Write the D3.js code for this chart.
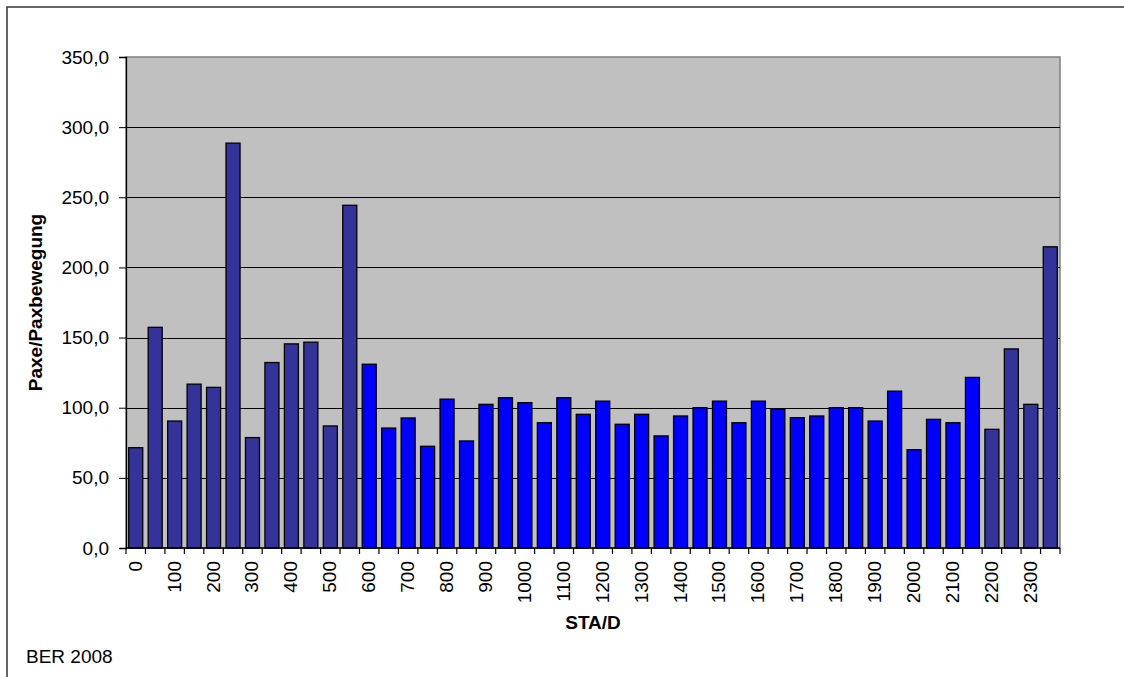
<!DOCTYPE html>
<html>
<head>
<meta charset="utf-8">
<script src="https://cdn.jsdelivr.net/npm/d3@7"></script>
<style>
  html, body { margin: 0; padding: 0; background: #fff; overflow: hidden; }
  svg { display: block; overflow: hidden; font-family: Arial, "Liberation Sans", sans-serif; }
</style>
</head>
<body>
<svg id="chart" width="1124" height="677"></svg>
<script>
// Half-hour slots (STA/D)
const categories = [
  "0","30","100","130","200","230","300","330","400","430","500","530",
  "600","630","700","730","800","830","900","930","1000","1030","1100","1130",
  "1200","1230","1300","1330","1400","1430","1500","1530","1600","1630","1700","1730",
  "1800","1830","1900","1930","2000","2030","2100","2130","2200","2230","2300","2330"
];
// Paxe/Paxbewegung
const values = [
  71.5, 157.3, 90.5, 116.8, 114.5, 288.6, 78.7, 132.2, 145.5, 146.7, 87.0, 244.3,
  131.0, 85.5, 92.7, 72.5, 106.1, 76.3, 102.4, 107.1, 103.6, 89.3, 107.1, 95.3,
  104.7, 88.2, 95.3, 79.9, 94.1, 100.0, 104.7, 89.3, 104.7, 98.8, 92.9, 94.1,
  100.0, 100.0, 90.5, 111.8, 70.1, 91.7, 89.3, 121.6, 84.6, 141.9, 102.4, 214.7
];
// night slots (dark) vs day slots (bright)
const nightSlots = ["0","30","100","130","200","230","300","330","400","430","500","530","2200","2230","2300","2330"];
const yTicks = [0, 50, 100, 150, 200, 250, 300, 350];
const xLabels = ["0","100","200","300","400","500","600","700","800","900","1000","1100",
  "1200","1300","1400","1500","1600","1700","1800","1900","2000","2100","2200","2300"];

const svg = d3.select("#chart");
const pL = 126, pR = 1060, pT = 57, pB = 548;

// outer chart border (left and top edges visible; right/bottom lie outside the frame)
svg.append("path").attr("d", "M7,700 L7,7 L1124,7")
  .attr("fill", "none").attr("stroke", "#333").attr("stroke-width", 1.5);

const x = d3.scaleBand().domain(categories).range([pL, pR]).paddingInner(0.28).paddingOuter(0.14);
const y = d3.scaleLinear().domain([0, 350]).range([pB, pT]);
const step = (pR - pL) / categories.length;

// plot area
svg.append("rect").attr("x", pL).attr("y", pT).attr("width", pR - pL).attr("height", pB - pT)
  .attr("fill", "#C0C0C0").attr("stroke", "#808080").attr("stroke-width", 1.5);

// gridlines
svg.append("g").selectAll("line").data(yTicks.filter(d => d > 0 && d < 350)).join("line")
  .attr("x1", pL).attr("x2", pR)
  .attr("y1", d => Math.round(y(d)) + 0.5).attr("y2", d => Math.round(y(d)) + 0.5)
  .attr("stroke", "#000").attr("stroke-width", 1);

// bars
svg.append("g").selectAll("rect").data(categories).join("rect")
  .attr("x", (d) => x(d))
  .attr("y", (d, i) => y(values[i]))
  .attr("width", x.bandwidth())
  .attr("height", (d, i) => y(0) - y(values[i]))
  .attr("fill", d => nightSlots.includes(d) ? "#333399" : "#0000FF")
  .attr("stroke", "#000").attr("stroke-width", 1.3);

// Y axis
const yAxis = d3.axisLeft(y).tickValues(yTicks).tickSize(7).tickPadding(10)
  .tickFormat(d => d3.format(".1f")(d).replace(".", ","));
const gy = svg.append("g").attr("transform", `translate(${pL},0)`).call(yAxis);
gy.select(".domain").attr("stroke", "#000").attr("stroke-width", 1.3);
gy.selectAll(".tick line").attr("stroke", "#000");
gy.selectAll("text").attr("font-size", 19).attr("fill", "#000")
  .attr("font-family", "Arial, 'Liberation Sans', sans-serif");

// X axis: ticks at category boundaries
const boundaries = d3.range(categories.length + 1).map(i => pL + i * step);
const gx = svg.append("g");
gx.append("line").attr("x1", pL).attr("x2", pR).attr("y1", pB).attr("y2", pB)
  .attr("stroke", "#000").attr("stroke-width", 1.3);
gx.selectAll("line.tk").data(boundaries).join("line").attr("class", "tk")
  .attr("x1", d => d).attr("x2", d => d).attr("y1", pB).attr("y2", pB + 6)
  .attr("stroke", "#000").attr("stroke-width", 1.2);
gx.selectAll("text").data(xLabels).join("text")
  .attr("transform", d => `translate(${x(d) + x.bandwidth() / 2 + 6},${pB + 13}) rotate(-90)`)
  .attr("text-anchor", "end")
  .attr("font-size", 19).attr("fill", "#000")
  .text(d => d);

// axis titles
svg.append("text").attr("x", (pL + pR) / 2).attr("y", 629).attr("text-anchor", "middle")
  .attr("font-size", 19).attr("font-weight", "bold").text("STA/D");
svg.append("text").attr("transform", `translate(42,${(pT + pB) / 2}) rotate(-90)`)
  .attr("text-anchor", "middle").attr("font-size", 19).attr("font-weight", "bold").text("Paxe/Paxbewegung");

svg.append("text").attr("x", 26).attr("y", 663).attr("font-size", 19).text("BER 2008");
</script>
</body>
</html>
